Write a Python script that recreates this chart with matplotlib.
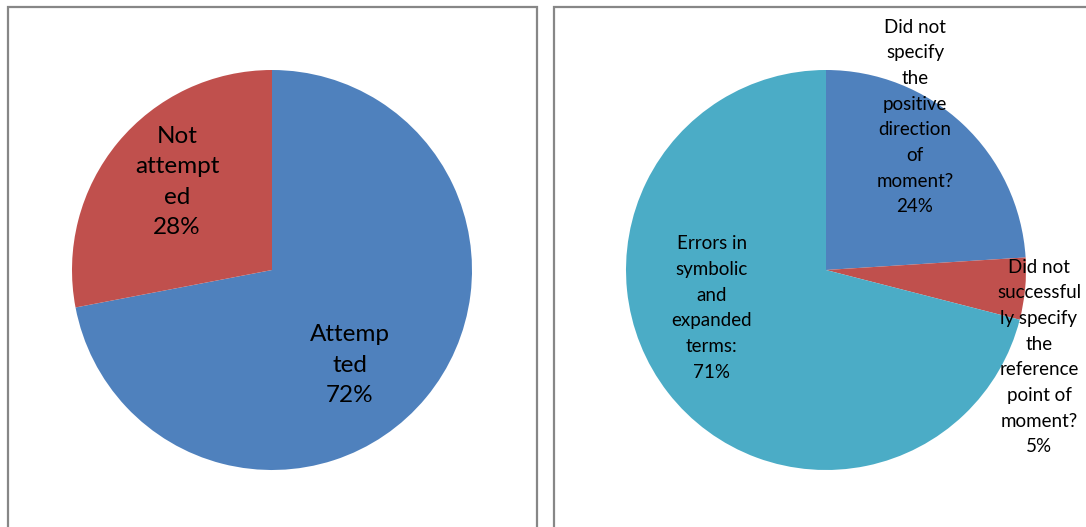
import matplotlib.pyplot as plt # import plotting library
from matplotlib.patches import Rectangle # import rectangle for panel frames

plt.rcParams['font.family'] = ['Lato', 'DejaVu Sans'] # set font

# left chart data
left_labels = ['Attemp\nted\n72%', 'Not\nattempt\ned\n28%']
left_values = [72, 28]
left_colors = ['#4F81BD', '#C0504D']

# right chart data
right_labels = ['Did not\nspecify\nthe\npositive\ndirection\nof\nmoment?\n24%',
                'Did not\nsuccessful\nly specify\nthe\nreference\npoint of\nmoment?\n5%',
                'Errors in\nsymbolic\nand\nexpanded\nterms:\n71%']
right_values = [24, 5, 71]
right_colors = ['#4F81BD', '#C0504D', '#4BACC6']

W, H = 1086, 527 # figure size in pixels
fig = plt.figure(figsize=(W/100, H/100), dpi=100) # create figure

# panel frames
for x0, x1 in [(8, 537), (554, 1090)]:
    fig.patches.append(Rectangle((x0/W, -0.1), (x1-x0)/W, (H-7)/H+0.1, transform=fig.transFigure,
                                 fill=False, edgecolor='#878787', linewidth=1.6))

def draw_pie(cx, cy, values, colors, labels, positions, size, spacing):
    r = 200
    ax = fig.add_axes([(cx-r)/W, (H-cy-r)/H, 2*r/W, 2*r/H]) # axes around pie
    ax.pie(values, colors=colors, startangle=90, counterclock=False, radius=1)
    ax.set_xlim(-1, 1)
    ax.set_ylim(-1, 1)
    ax.set_aspect('equal')
    ax.axis('off')
    for lab, (px, py) in zip(labels, positions):
        ax.text((px-cx)/r, (cy-py)/r, lab, ha='center', va='center', fontsize=size,
                linespacing=spacing, clip_on=False)

draw_pie(272, 270, left_values, left_colors, left_labels, [(350, 365), (177, 182)], 17.5, 1.55)
draw_pie(826, 270, right_values, right_colors, right_labels,
         [(915, 117), (1039, 357), (712, 308)], 13.5, 1.62)

plt.savefig('out.png', dpi=100) # save output
